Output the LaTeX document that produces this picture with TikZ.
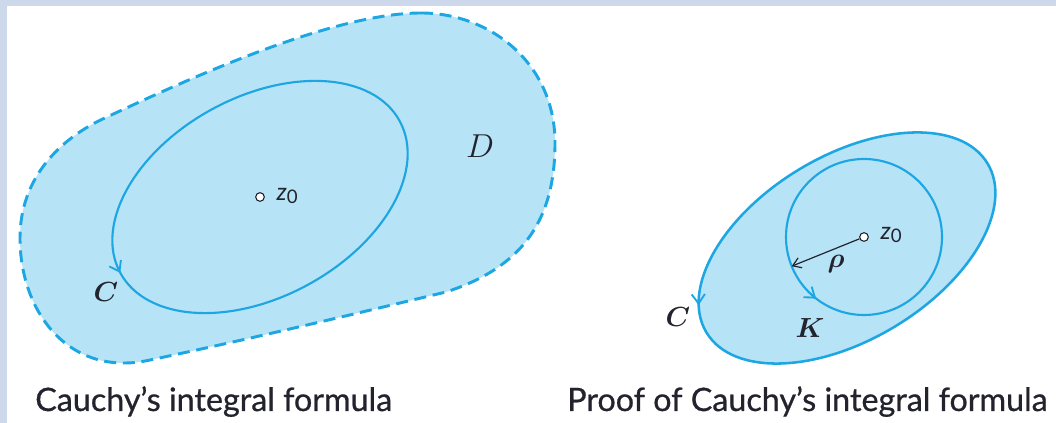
\documentclass[tikz,border=0pt]{standalone}
\usepackage{fontspec}
\usepackage{amsmath}
\setsansfont{Lato}
\newfontfamily\capfont{Lato}[RawFeature={embolden=0.7}]
\usetikzlibrary{arrows.meta,decorations.markings}
\definecolor{frame}{RGB}{205,216,234}
\definecolor{fillb}{RGB}{183,227,247}
\definecolor{lineb}{RGB}{28,166,226}
\definecolor{ink}{RGB}{35,35,45}
\tikzset{
  barb/.tip={Straight Barb[length=7pt,width=10pt,line width=1.4pt]},
  curve/.style={draw=lineb, line width=1.6pt},
  zpt/.style={circle, draw=ink, fill=white, inner sep=0pt, minimum size=6.5pt, line width=0.8pt},
  zlab/.style={font=\sffamily\fontsize{18}{20}\selectfont, text=ink},
  mlab/.style={font=\fontsize{21}{23}\selectfont, text=ink},
  caption/.style={font=\capfont\fontsize{24.2}{28}\selectfont, text=ink, anchor=base west, inner sep=0pt},
  markat/.style={postaction={decorate}, decoration={markings, mark=at position #1 with {\arrow[lineb]{barb}}}}
}
\newcommand{\zlabel}{\textit{z}\raisebox{-0.3ex}{\fontsize{14}{16}\selectfont 0}}
\begin{document}
\begin{tikzpicture}[x=0.75pt,y=0.75pt]
\useasboundingbox (0,0) rectangle (1056,423);
\fill[frame] (0,417) rectangle (1056,423);
\fill[frame] (0,0) rectangle (7,423);

% region D (dashed)
\path[fill=fillb, draw=lineb, line width=2.2pt, dash pattern=on 9pt off 5pt]
  (421,410) .. controls (490,410) and (555,360) .. (555,280)
  .. controls (555,200) and (520,155) .. (446,131)
  .. controls (350,108) and (250,84) .. (150,63)
  .. controls (70,45) and (20,110) .. (20,185)
  .. controls (20,245) and (60,285) .. (107,306)
  .. controls (180,340) and (330,410) .. (421,410) -- cycle;

% contour C (left)
\draw[curve, markat=0.5, rotate around={28.5:(260,226)}] (260,226) ellipse [x radius=159, y radius=100];
\node[zpt] (za) at (260,226) {};
\node[zlab, anchor=west] (zla) at (272,227) {\zlabel};
\node[mlab] (ca) at (106,131) {$\boldsymbol{C}$};
\node[font=\fontsize{34}{36}\selectfont, text=ink] (D) at (480,277) {$D$};

% right figure
\draw[fill=fillb, draw=lineb, line width=1.9pt, markat=0.465, rotate around={31:(847,175)}] (847,175) ellipse [x radius=164, y radius=92];
\draw[curve, markat=0.645] (864,186) circle [radius=78];
\node[zpt] (zb) at (864,186) {};
\node[zlab, anchor=west] (zlb) at (876,188) {\zlabel};
\coordinate (kp) at (791.7,156.8);
\draw[ink, line width=0.9pt, -{Straight Barb[length=6pt,width=8pt]}] (zb) -- (kp);
\node[mlab] (rho) at (836,159) {$\boldsymbol{\rho}$};
\node[mlab] (cb) at (678,106) {$\boldsymbol{C}$};
\node[mlab] (kb) at (810,95) {$\boldsymbol{K}$};

% captions
\node[caption] (cap1) at (35,12) {Cauchy’s integral formula};
\node[caption] (cap2) at (567,12) {Proof of Cauchy’s integral formula};
\end{tikzpicture}
\end{document}
